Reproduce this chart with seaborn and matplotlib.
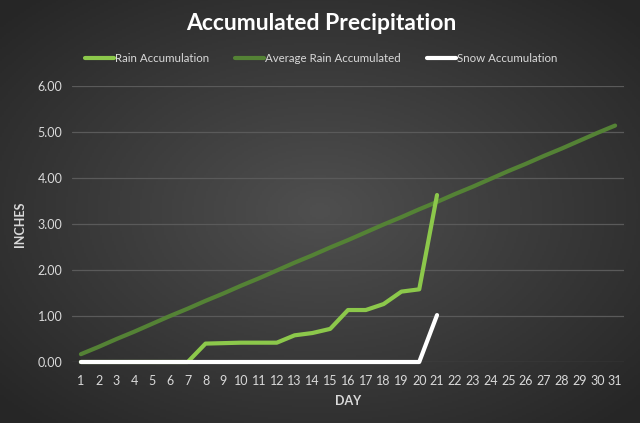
import numpy as np
import matplotlib.pyplot as plt
import seaborn as sns
import pandas as pd

days = list(range(1, 32))
rain = [0, 0, 0, 0, 0, 0, 0, 0.40, 0.41, 0.42, 0.42, 0.42, 0.58, 0.63, 0.72,
        1.13, 1.13, 1.26, 1.53, 1.58, 3.63]
snow = [0] * 20 + [1.02]
avg_rain = [0.17, 0.33, 0.50, 0.66, 0.83, 1.00, 1.16, 1.33, 1.49, 1.66, 1.82,
            1.99, 2.16, 2.32, 2.49, 2.65, 2.82, 2.99, 3.15, 3.32, 3.48, 3.65,
            3.81, 3.98, 4.15, 4.31, 4.48, 4.64, 4.81, 4.98, 5.14]
y_ticks = [0, 1, 2, 3, 4, 5, 6]

rain_df = pd.DataFrame({"day": days[:len(rain)], "value": rain})
snow_df = pd.DataFrame({"day": days[:len(snow)], "value": snow})
avg_df = pd.DataFrame({"day": days, "value": avg_rain})

sns.set_style("dark")
plt.rcParams["font.family"] = ["Lato", "DejaVu Sans"]

fig = plt.figure(figsize=(6.4, 4.23), dpi=100)

# radial grey background
bg = fig.add_axes([0, 0, 1, 1], zorder=-10)
gx, gy = np.meshgrid(np.linspace(-1, 1, 320), np.linspace(-1, 1, 212))
r = np.clip(np.sqrt(gx ** 2 + gy ** 2) / 1.35, 0, 1)
shade = 0.31 - 0.16 * r
bg.imshow(np.dstack([shade, shade, shade]), aspect="auto", extent=[0, 1, 0, 1])
bg.set_axis_off()

ax = fig.add_axes([72 / 640, 1 - 362 / 423, 552 / 640, 276 / 423])
ax.set_facecolor("none")

sns.lineplot(data=avg_df, x="day", y="value", ax=ax, color="#548235",
             linewidth=3.0, label="Average Rain Accumulated", clip_on=False, zorder=3)
sns.lineplot(data=rain_df, x="day", y="value", ax=ax, color="#8cc84b",
             linewidth=3.0, label="Rain Accumulation", clip_on=False, zorder=4)
sns.lineplot(data=snow_df, x="day", y="value", ax=ax, color="white",
             linewidth=3.0, label="Snow Accumulation", clip_on=False, zorder=5)

ax.set_xlim(0.5, 31.5)
ax.set_ylim(0, 6)
ax.set_xticks(days)
ax.set_yticks(y_ticks)
ax.set_yticklabels([f"{v:.2f}" for v in y_ticks])
ax.grid(axis="y", color="#5a5a5a", linewidth=0.9)
ax.grid(axis="x", visible=False)
for s in ax.spines.values():
    s.set_visible(False)
ax.tick_params(colors="#d9d9d9", labelsize=9, length=0)
ax.tick_params(axis="x", pad=9)
ax.tick_params(axis="y", pad=7)
ax.set_xlabel("DAY", color="#d9d9d9", fontsize=9, fontweight="bold", labelpad=6)
ax.set_ylabel("INCHES", color="#d9d9d9", fontsize=9, fontweight="bold", labelpad=8)

handles, labels = ax.get_legend_handles_labels()
order = [1, 0, 2]
ax.get_legend().remove()
fig.legend([handles[i] for i in order], [labels[i] for i in order],
           loc="center", bbox_to_anchor=(0.502, 1 - 59 / 423), ncol=3, frameon=False,
           fontsize=8.3, labelcolor="#d9d9d9", handlelength=2.5, handletextpad=0.1,
           columnspacing=2.3)

fig.text(0.502, 1 - 24 / 423, "Accumulated Precipitation", ha="center", va="center",
         color="white", fontsize=16.5, fontweight="bold")

fig.savefig("out.png", dpi=100)
